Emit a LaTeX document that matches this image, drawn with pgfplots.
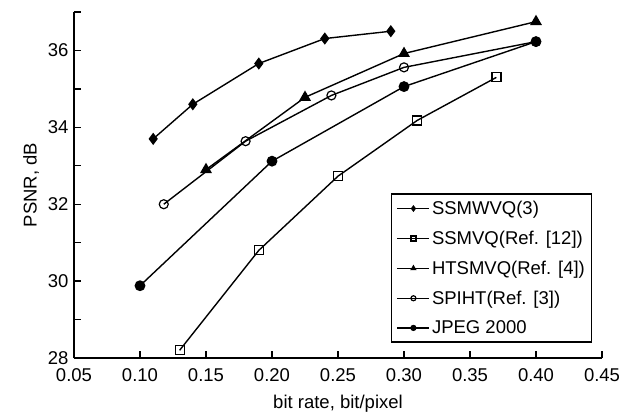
\documentclass[border=0pt]{standalone}
\usepackage{pgfplots}
\pgfplotsset{compat=1.18}
\usepackage{fontspec}
\setmainfont{Liberation Sans}

\begin{document}
\begin{tikzpicture}
\begin{axis}[
    width=528pt, height=346pt, scale only axis,
    xmin=0.05, xmax=0.45, ymin=28, ymax=37,
    axis x line*=bottom, axis y line*=left,
    axis line style={line width=1.5pt, -},
    xtick={0.05,0.10,0.15,0.20,0.25,0.30,0.35,0.40,0.45},
    ytick={28,30,32,34,36}, minor ytick={29,31,33,35,37},
    tick align=inside,
    tick style={line width=1.3pt, black},
    major tick length=7pt, minor tick length=7pt,
    /pgf/number format/assume math mode=true,
    xticklabel style={yshift=-7pt},
    x tick label style={/pgf/number format/fixed, /pgf/number format/fixed zerofill,
        /pgf/number format/precision=2},
    yticklabel style={xshift=-2pt},
    tick label style={font=\fontsize{18.5}{21}\selectfont},
    label style={font=\fontsize{18.5}{21}\selectfont},
    xlabel={bit rate, bit/pixel}, ylabel={PSNR, dB},
    xlabel style={yshift=-7pt},
    ylabel style={yshift=2pt},
    legend cell align=left,
    legend style={at={(rel axis cs:0.982,0.044)}, anchor=south east,
        draw=black, line width=1.3pt, font=\fontsize{18.5}{21}\selectfont,
        row sep=11pt, inner sep=5pt},
    legend image code/.code={\draw[mark repeat=2, mark phase=2, line width=1.2pt]
        plot coordinates {(0pt,0pt) (16pt,0pt) (32pt,0pt)};},
    legend image post style={mark size=2.5pt},
    every axis plot/.append style={line width=1.4pt, black},
]
\coordinate (O) at (rel axis cs:0,0);
\addplot[mark=diamond*, mark size=5pt, mark options={solid, fill=black}]
    coordinates {(0.11,33.7) (0.14,34.6) (0.19,35.66) (0.24,36.31) (0.29,36.5)};
\addlegendentry{SSMWVQ(3)}
\addplot[mark=square, mark size=4.5pt, mark options={solid, fill=white, line width=1.2pt}]
    coordinates {(0.13,28.2) (0.19,30.8) (0.25,32.73) (0.31,34.18) (0.37,35.3)};
\addlegendentry{SSMVQ(Ref. [12])}
\addplot[mark=triangle*, mark size=5.5pt, mark options={solid, fill=black}]
    coordinates {(0.15,32.9) (0.225,34.78) (0.30,35.92) (0.40,36.75)};
\addlegendentry{HTSMVQ(Ref. [4])}
\addplot[mark=o, mark size=4.5pt, mark options={solid, fill=white, line width=1.2pt}]
    coordinates {(0.118,32.0) (0.18,33.64) (0.245,34.83) (0.30,35.56) (0.40,36.23)};
\addlegendentry{SPIHT(Ref. [3])}
\addplot[mark=*, mark size=4.7pt, mark options={solid, fill=black}]
    coordinates {(0.10,29.88) (0.20,33.12) (0.30,35.06) (0.40,36.23)};
\addlegendentry{JPEG 2000}
\end{axis}
\pgfresetboundingbox
\useasboundingbox (O) ++(-74pt,-58pt) rectangle ++(631pt,416pt);
\end{tikzpicture}
\end{document}
